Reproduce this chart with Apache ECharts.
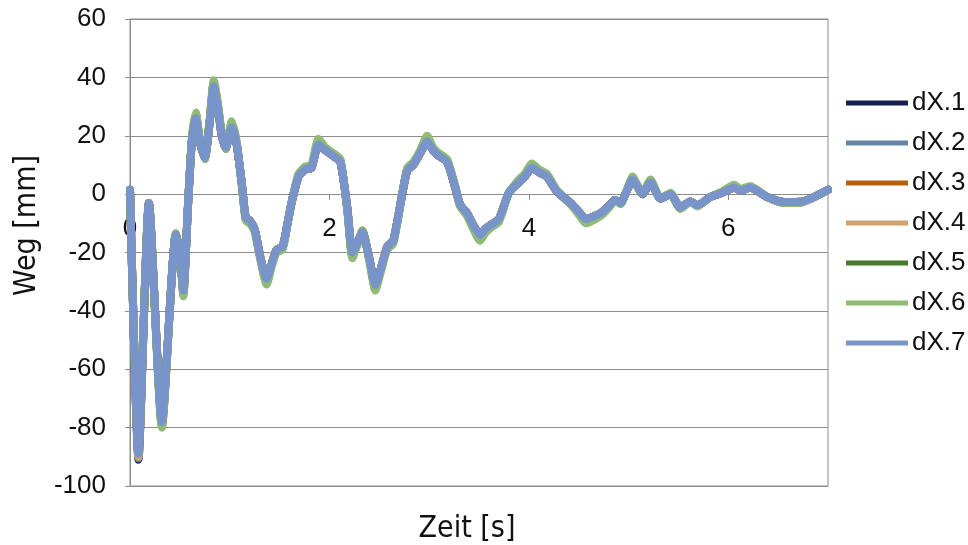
<!DOCTYPE html>
<html>
<head>
<meta charset="utf-8">
<script src="https://cdn.jsdelivr.net/npm/echarts@6/dist/echarts.min.js"></script>
<style>
  html, body { margin: 0; padding: 0; background: #ffffff; }
  #chart { width: 968px; height: 545px; }
</style>
</head>
<body>
<div id="chart"></div>
<script>
// Zeitachse [s]
const zeit = [0, 0.085, 0.19, 0.32, 0.46, 0.50, 0.535, 0.58, 0.62, 0.66,
  0.70, 0.75, 0.80, 0.84, 0.88, 0.92, 0.96, 1.02, 1.07, 1.12,
  1.16, 1.20, 1.25, 1.31, 1.37, 1.42, 1.47, 1.53, 1.58, 1.62,
  1.69, 1.76, 1.82, 1.89, 1.96, 2.04, 2.11, 2.18, 2.23, 2.28,
  2.33, 2.40, 2.46, 2.52, 2.58, 2.64, 2.73, 2.78, 2.84, 2.91,
  2.98, 3.04, 3.10, 3.18, 3.26, 3.31, 3.38, 3.45, 3.51, 3.56,
  3.62, 3.70, 3.80, 3.90, 3.96, 4.03, 4.10, 4.18, 4.28, 4.42,
  4.50, 4.57, 4.72, 4.82, 4.86, 4.92, 4.98, 5.04, 5.10, 5.14,
  5.22, 5.32, 5.42, 5.52, 5.62, 5.69, 5.82, 5.92, 6.06, 6.12,
  6.22, 6.39, 6.56, 6.73, 6.86, 7.00];

// Verschiebungen dX [mm]
const dX1 = [1.5, -91, -3, -78, -14, -20, -33, -5, 18, 26,
  18, 12.5, 25, 37, 30, 20, 16, 23, 17, 4,
  -8, -9, -12, -22, -29, -24, -19, -18, -10, -3,
  6, 8.5, 9, 17, 15, 13, 11, -5, -20, -17,
  -13, -22, -31, -25, -18, -16, 0, 8, 10, 14,
  18, 15, 13, 11, 2.5, -3.5, -6.5, -11, -14, -12,
  -10.5, -8.5, 0.5, 4, 6, 9, 7.5, 6, 1, -3,
  -6, -8.5, -6.5, -3.5, -2, -3, 1, 5, 2, 0,
  4, -1.5, 0, -4.5, -2.5, -3.8, -1, 0.2, 2.2, 1.2,
  2.2, -1, -2.7, -2.6, -1, 1.5];
const dX2 = [1.5, -90.5, -3, -78, -14, -20, -33, -5, 18, 26,
  18, 12.5, 25, 37, 30, 20, 16, 23, 17, 4,
  -8, -9, -12, -22, -29, -24, -19, -18, -10, -3,
  6, 8.5, 9, 17, 15, 13, 11, -5, -20, -17,
  -13, -22, -31, -25, -18, -16, 0, 8, 10, 14,
  18, 15, 13, 11, 2.5, -3.5, -6.5, -11, -14, -12,
  -10.5, -8.5, 0.5, 4, 6, 9, 7.5, 6, 1, -3,
  -6, -8.5, -6.5, -3.5, -2, -3, 1, 5, 2, 0,
  4, -1.5, 0, -4.5, -2.5, -3.8, -1, 0.2, 2.2, 1.2,
  2.2, -1, -2.7, -2.6, -1, 1.5];
const dX3 = [1.5, -89.5, -3, -78.5, -14, -20, -33.5, -5, 18, 26.5,
  18, 12.5, 25, 37.5, 30, 20, 16, 23.5, 17, 4,
  -8, -9, -12, -22, -29.5, -24, -19, -18, -10, -3,
  6, 8.5, 9, 17.5, 15, 13, 11, -5, -20.5, -17,
  -13, -22, -31.5, -25, -18, -16, 0, 8, 10, 14,
  18.5, 15, 13, 11, 2.5, -3.5, -6.5, -11, -14.5, -12,
  -10.5, -8.5, 0.5, 4, 6, 9.5, 7.5, 6, 1, -3,
  -6, -8.5, -6.5, -3.5, -2, -3, 1, 5, 2, 0,
  4, -1.5, 0, -4.5, -2.5, -3.8, -1, 0.2, 2.2, 1.2,
  2.2, -1, -2.7, -2.6, -1, 1.5];
const dX4 = [1.5, -90, -3, -79, -14, -20, -34, -5, 18, 27,
  18, 12.5, 25, 38, 30, 20, 16, 24, 17, 4,
  -8, -9, -12, -22, -30, -24, -19, -18, -10, -3,
  6, 8.5, 9, 18, 15, 13, 11, -5, -21, -17,
  -13, -22, -32, -25, -18, -16, 0, 8, 10, 14,
  19, 15, 13, 11, 2.5, -3.5, -6.5, -11, -15, -12,
  -10.5, -8.5, 0.5, 4, 6, 9.5, 7.5, 6, 1, -3,
  -6, -9, -6.5, -3.5, -2, -3, 1, 5, 2, 0,
  4, -1.5, 0, -4.5, -2.5, -3.8, -1, 0.2, 2.5, 1.2,
  2.4, -1, -2.7, -2.6, -1, 1.5];
const dX5 = [1.5, -88, -3.5, -79.5, -13.5, -20.5, -34.5, -5, 18.5, 27.5,
  18.5, 12, 25.5, 38.5, 31, 20.5, 15.5, 24.5, 17.5, 3.5,
  -8.5, -9.5, -12.5, -22.5, -30.5, -24.5, -19.5, -18.5, -10, -3,
  6.5, 9, 9.5, 18.5, 15.5, 13.5, 11.5, -5.5, -21.5, -17,
  -12.5, -22.5, -32.5, -25.5, -18.5, -16.5, 0, 8.5, 10.5, 14.5,
  19.5, 15.5, 13.5, 11.5, 2.5, -4, -7, -12, -15.5, -13,
  -11, -9, 0.5, 4.5, 6.5, 10, 8, 6.5, 1, -3.5,
  -6.5, -9.5, -7, -3.5, -2, -3, 1, 5.5, 2, 0,
  4.5, -1.5, 0, -5, -2.5, -4, -1, 0.5, 2.8, 1.5,
  2.5, -1, -3, -2.8, -1, 1.5];
const dX6 = [1.5, -87, -3.5, -80, -13.5, -21, -35, -5, 19, 28,
  19, 12, 26, 39, 31.5, 21, 15.5, 25, 18, 3.5,
  -9, -10, -13, -23, -31, -25, -20, -19, -10.5, -3,
  7, 9.5, 10, 19, 16, 14, 12, -6, -22, -17.5,
  -12.5, -23, -33, -26, -19, -17, 0, 9, 11, 15,
  20, 16, 14, 12, 3, -4, -7.5, -12.5, -16, -13.5,
  -11.5, -9.5, 0.5, 5, 7, 10.5, 8.5, 7, 1.5, -3.5,
  -7, -10, -7.5, -4, -2, -3.5, 1, 6, 2.5, 0.5,
  5, -1.5, 0.5, -5, -2.5, -4.2, -1, 0.5, 3.2, 1.8,
  2.8, -1, -3, -3, -1, 1.5];
const dX7 = [1.5, -89, -3, -78, -14, -20, -33, -5, 18, 26,
  18, 12.5, 25, 37, 30, 20, 16, 23, 17, 4,
  -8, -9, -12, -22, -29, -24, -19, -18, -10, -3,
  6, 8.5, 9, 17, 15, 13, 11, -5, -20, -17,
  -13, -22, -31, -25, -18, -16, 0, 8, 10, 14,
  18, 15, 13, 11, 2.5, -3.5, -6.5, -11, -14, -12,
  -10.5, -8.5, 0.5, 4, 6, 9, 7.5, 6, 1, -3,
  -6, -8.5, -6.5, -3.5, -2, -3, 1, 5, 2, 0,
  4, -1.5, 0, -4.5, -2.5, -3.8, -1, 0.2, 2.2, 1.2,
  2.2, -1, -2.7, -2.6, -1, 1.5];

const namen = ['dX.1', 'dX.2', 'dX.3', 'dX.4', 'dX.5', 'dX.6', 'dX.7'];
const werte = [dX1, dX2, dX3, dX4, dX5, dX6, dX7];
const farben = ['#14214f', '#6585ab', '#b5600f', '#d2a26e', '#4b7c2b', '#8fbb76', '#7894ca'];

// Achsenbeschriftung
const xTicks = { min: 0, max: 7, interval: 2 };
const yTicks = { min: -100, max: 60, interval: 20 };

const schrift = "'Liberation Sans', Arial, sans-serif";
const schmal = "'Liberation Sans Narrow', 'Arial Narrow', 'DejaVu Sans Condensed', 'Liberation Sans', sans-serif";
const grau = '#8c8c8c';

// Zeichenfläche
const raster = { left: 130, right: 140, top: 19, bottom: 59 };
const hoehe = 545 - raster.top - raster.bottom;
// Abstand der Nulllinie vom unteren Rand der Zeichenfläche
const nullAbstand = hoehe * (0 - yTicks.min) / (yTicks.max - yTicks.min);

const chart = echarts.init(document.getElementById('chart'), null, { renderer: 'canvas' });

chart.setOption({
  animation: false,
  backgroundColor: '#ffffff',
  textStyle: { fontFamily: schrift, color: '#111' },
  grid: {
    left: raster.left, right: raster.right, top: raster.top, bottom: raster.bottom,
    containLabel: false,
    outerBoundsMode: 'none',
    show: true, borderColor: grau, borderWidth: 1
  },
  legend: {
    orient: 'vertical',
    left: 841, top: 85,
    icon: 'rect',
    itemWidth: 62, itemHeight: 5,
    itemGap: 14,
    textStyle: { fontFamily: schrift, fontSize: 26, color: '#111', lineHeight: 26, padding: [0, 0, 0, -1] },
    data: namen
  },
  xAxis: [
    {
      // Zeitachse auf der Nulllinie
      type: 'value',
      position: 'bottom',
      offset: -nullAbstand,
      min: xTicks.min, max: xTicks.max, interval: xTicks.interval,
      axisLine: { onZero: false, lineStyle: { color: grau, width: 1 } },
      axisTick: { show: true, length: 6, lineStyle: { color: grau } },
      axisLabel: { fontFamily: schrift, fontSize: 26, color: '#111', margin: 22, showMaxLabel: false },
      splitLine: { show: false }
    },
    {
      // Titel der Zeitachse unter der Zeichenfläche
      type: 'value',
      position: 'bottom',
      min: xTicks.min, max: xTicks.max, interval: xTicks.interval,
      name: 'Zeit [s]',
      nameLocation: 'middle',
      nameGap: 28,
      nameTextStyle: { fontFamily: schmal, fontSize: 30, color: '#111', padding: [0, 24, 0, 0] },
      axisLine: { show: false, onZero: false },
      axisTick: { show: false },
      axisLabel: { show: false },
      splitLine: { show: false }
    }
  ],
  yAxis: {
    type: 'value',
    min: yTicks.min, max: yTicks.max, interval: yTicks.interval,
    name: 'Weg [mm]',
    nameLocation: 'middle',
    nameGap: 88,
    nameTextStyle: { fontFamily: schmal, fontSize: 30, color: '#111', padding: [0, 0, 0, 54] },
    axisLine: { show: true, onZero: false, lineStyle: { color: grau, width: 1 } },
    axisTick: { show: true, length: 5, lineStyle: { color: grau } },
    axisLabel: { fontFamily: schrift, fontSize: 26, color: '#111', margin: 24 },
    splitLine: { show: true, lineStyle: { color: grau, width: 1 } }
  },
  series: namen.map((n, k) => ({
    name: n,
    type: 'line',
    xAxisIndex: 0,
    data: zeit.map((t, i) => [t, werte[k][i]]),
    showSymbol: false,
    smooth: 0.2,
    color: farben[k],
    lineStyle: { width: 8, color: farben[k], cap: 'round', join: 'round' },
    emphasis: { disabled: true }
  }))
});
</script>
</body>
</html>
